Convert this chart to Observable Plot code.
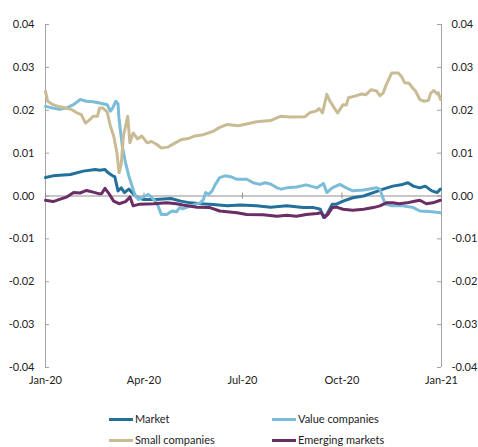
<!DOCTYPE html>
<html><head><meta charset="utf-8">
<script src="https://cdn.jsdelivr.net/npm/d3@7"></script>
<script src="https://cdn.jsdelivr.net/npm/@observablehq/plot@0.6"></script>
<style>
body{margin:0;background:#fff;font-family:Lato,"Liberation Sans",sans-serif;}
#wrap{position:relative;width:478px;height:447px;overflow:hidden}
#legend{position:absolute;left:0;top:0;width:478px;height:447px;font-size:11px;color:#222;pointer-events:none}
.item{position:absolute;display:flex;align-items:center;white-space:nowrap;height:12px;line-height:12px}
.sw{width:24px;height:3px;margin-right:2px}
</style></head><body>
<div id="wrap"><div id="chart"></div><div id="legend"></div></div>
<script>
const seriesNames = ["Market", "Value companies", "Small companies", "Emerging markets"];
const seriesColors = ["#23709a", "#7bbcd9", "#c9bc95", "#6b2d63"];

const marketData = [
["2020-01-01",0.0043],["2020-01-08",0.0047],["2020-01-24",0.0050],["2020-02-05",0.0058],["2020-02-16",0.0062],
["2020-02-20",0.0060],["2020-02-25",0.0062],["2020-02-28",0.0054],["2020-03-03",0.0047],["2020-03-05",0.0045],
["2020-03-08",0.0012],["2020-03-11",0.0019],["2020-03-14",0.0008],["2020-03-18",0.0016],["2020-03-21",0.0008],
["2020-03-26",-0.0004],["2020-04-01",-0.0008],["2020-04-12",-0.0008],["2020-04-26",-0.0006],["2020-05-05",-0.0012],
["2020-05-14",-0.0016],["2020-05-23",-0.0018],["2020-06-04",-0.0020],["2020-06-17",-0.0023],["2020-06-29",-0.0021],
["2020-07-14",-0.0023],["2020-07-27",-0.0026],["2020-08-11",-0.0023],["2020-08-26",-0.0027],["2020-09-05",-0.0027],
["2020-09-11",-0.0031],["2020-09-14",-0.0050],["2020-09-17",-0.0043],["2020-09-22",-0.0019],["2020-09-26",-0.0019],
["2020-10-02",-0.0012],["2020-10-11",-0.0004],["2020-10-21",0.0000],["2020-10-30",0.0008],["2020-11-08",0.0016],
["2020-11-17",0.0023],["2020-11-26",0.0027],["2020-12-01",0.0031],["2020-12-06",0.0023],["2020-12-12",0.0019],
["2020-12-17",0.0023],["2020-12-23",0.0012],["2020-12-28",0.0008],["2020-12-31",0.0016]
];

const valueData = [
["2020-01-01",0.0209],["2020-01-08",0.0205],["2020-01-14",0.0202],["2020-01-21",0.0206],["2020-01-27",0.0213],
["2020-02-02",0.0225],["2020-02-08",0.0221],["2020-02-14",0.0220],["2020-02-20",0.0217],["2020-02-27",0.0213],
["2020-03-01",0.0198],["2020-03-03",0.0205],["2020-03-06",0.0221],["2020-03-08",0.0215],["2020-03-09",0.0179],
["2020-03-12",0.0116],["2020-03-15",0.0077],["2020-03-18",0.0047],["2020-03-21",0.0023],["2020-03-24",0.0000],
["2020-03-27",-0.0008],["2020-04-02",0.0000],["2020-04-05",0.0004],["2020-04-10",-0.0008],["2020-04-14",-0.0023],
["2020-04-17",-0.0043],["2020-04-22",-0.0043],["2020-04-27",-0.0035],["2020-05-01",-0.0037],["2020-05-04",-0.0027],
["2020-05-07",-0.0030],["2020-05-14",-0.0023],["2020-05-23",-0.0016],["2020-05-26",-0.0008],["2020-05-28",0.0008],
["2020-05-31",0.0004],["2020-06-03",0.0012],["2020-06-06",0.0027],["2020-06-10",0.0043],["2020-06-15",0.0047],
["2020-06-20",0.0045],["2020-06-26",0.0039],["2020-07-05",0.0039],["2020-07-11",0.0031],["2020-07-17",0.0027],
["2020-07-22",0.0031],["2020-07-27",0.0028],["2020-08-02",0.0019],["2020-08-06",0.0016],["2020-08-11",0.0019],
["2020-08-20",0.0021],["2020-08-29",0.0026],["2020-09-08",0.0019],["2020-09-14",0.0029],["2020-09-17",0.0008],
["2020-09-22",0.0019],["2020-09-29",0.0027],["2020-10-05",0.0019],["2020-10-11",0.0012],["2020-10-21",0.0014],
["2020-11-02",0.0019],["2020-11-05",0.0016],["2020-11-10",-0.0019],["2020-11-16",-0.0023],["2020-11-26",-0.0023],
["2020-12-06",-0.0027],["2020-12-12",-0.0035],["2020-12-21",-0.0036],["2020-12-31",-0.0039]
];

const smallData = [
["2020-01-01",0.0244],["2020-01-03",0.0221],["2020-01-08",0.0213],["2020-01-14",0.0208],["2020-01-21",0.0204],
["2020-01-25",0.0202],["2020-01-30",0.0194],["2020-02-03",0.0190],["2020-02-07",0.0170],["2020-02-11",0.0178],
["2020-02-14",0.0186],["2020-02-18",0.0186],["2020-02-20",0.0205],["2020-02-23",0.0205],["2020-02-27",0.0196],
["2020-03-01",0.0163],["2020-03-04",0.0140],["2020-03-07",0.0101],["2020-03-09",0.0054],["2020-03-11",0.0075],
["2020-03-13",0.0140],["2020-03-17",0.0186],["2020-03-19",0.0124],["2020-03-22",0.0147],["2020-03-26",0.0133],
["2020-03-30",0.0140],["2020-04-04",0.0124],["2020-04-08",0.0127],["2020-04-13",0.0120],["2020-04-17",0.0112],
["2020-04-23",0.0114],["2020-04-30",0.0124],["2020-05-06",0.0132],["2020-05-12",0.0134],["2020-05-18",0.0140],
["2020-05-26",0.0143],["2020-06-04",0.0151],["2020-06-10",0.0160],["2020-06-17",0.0167],["2020-06-27",0.0164],
["2020-07-05",0.0168],["2020-07-14",0.0173],["2020-07-27",0.0176],["2020-08-05",0.0186],["2020-08-14",0.0184],
["2020-08-28",0.0185],["2020-09-01",0.0194],["2020-09-07",0.0198],["2020-09-10",0.0204],["2020-09-13",0.0194],
["2020-09-17",0.0237],["2020-09-20",0.0221],["2020-09-24",0.0205],["2020-09-27",0.0194],["2020-10-02",0.0213],
["2020-10-05",0.0212],["2020-10-07",0.0229],["2020-10-13",0.0233],["2020-10-19",0.0238],["2020-10-23",0.0236],
["2020-10-28",0.0248],["2020-11-02",0.0245],["2020-11-05",0.0234],["2020-11-08",0.0240],["2020-11-11",0.0260],
["2020-11-16",0.0287],["2020-11-22",0.0287],["2020-11-25",0.0279],["2020-11-28",0.0264],["2020-12-02",0.0263],
["2020-12-06",0.0250],["2020-12-08",0.0245],["2020-12-12",0.0225],["2020-12-16",0.0221],["2020-12-20",0.0223],
["2020-12-22",0.0240],["2020-12-25",0.0246],["2020-12-28",0.0238],["2020-12-29",0.0241],["2020-12-31",0.0225]
];

const emergingData = [
["2020-01-01",-0.0010],["2020-01-08",-0.0013],["2020-01-14",-0.0008],["2020-01-21",-0.0002],["2020-01-27",0.0008],
["2020-02-02",0.0007],["2020-02-08",0.0013],["2020-02-14",0.0009],["2020-02-20",0.0005],["2020-02-22",0.0006],
["2020-02-25",0.0018],["2020-02-28",0.0008],["2020-03-04",-0.0012],["2020-03-09",-0.0018],["2020-03-15",-0.0013],
["2020-03-17",-0.0008],["2020-03-19",-0.0002],["2020-03-22",-0.0023],["2020-03-28",-0.0019],["2020-04-10",-0.0018],
["2020-04-22",-0.0016],["2020-05-01",-0.0018],["2020-05-07",-0.0021],["2020-05-20",-0.0026],["2020-06-01",-0.0027],
["2020-06-10",-0.0035],["2020-06-26",-0.0039],["2020-07-05",-0.0043],["2020-07-20",-0.0044],["2020-08-02",-0.0047],
["2020-08-11",-0.0045],["2020-08-20",-0.0047],["2020-08-29",-0.0043],["2020-09-08",-0.0041],["2020-09-12",-0.0039],
["2020-09-15",-0.0050],["2020-09-18",-0.0043],["2020-09-22",-0.0027],["2020-09-26",-0.0026],["2020-10-02",-0.0031],
["2020-10-11",-0.0033],["2020-10-21",-0.0031],["2020-10-30",-0.0027],["2020-11-05",-0.0023],["2020-11-11",-0.0016],
["2020-11-17",-0.0016],["2020-11-23",-0.0018],["2020-11-30",-0.0016],["2020-12-06",-0.0013],["2020-12-12",-0.0010],
["2020-12-18",-0.0018],["2020-12-24",-0.0016],["2020-12-31",-0.0010]
];

const xStart = "2020-01-01", xEnd = "2021-01-01";
const xTickDates = ["2020-01-01", "2020-04-01", "2020-07-01", "2020-10-01", "2021-01-01"];
const yTicks = [-0.04, -0.03, -0.02, -0.01, 0, 0.01, 0.02, 0.03, 0.04];

const parse = d3.utcParse("%Y-%m-%d");
const allSeries = [marketData, valueData, smallData, emergingData];
const rows = [];
allSeries.forEach((data, i) => data.forEach(([d, v]) => rows.push({date: parse(d), value: v, name: seriesNames[i]})));
const xDomain = [parse(xStart), parse(xEnd)];
const xTicks = xTickDates.map(parse);
const axisGrey = "#a3a3a3";
const fmt = d => d.toFixed(2);

const chart = Plot.plot({
  width: 478, height: 392,
  marginLeft: 45, marginRight: 37, marginTop: 24, marginBottom: 25,
  style: {fontFamily: "Lato, 'Liberation Sans', sans-serif", fontSize: "11px", color: "#222", background: "#fff"},
  x: {type: "utc", domain: xDomain},
  y: {domain: [-0.04, 0.04]},
  color: {domain: seriesNames, range: seriesColors},
  marks: [
    Plot.ruleX(xDomain, {stroke: axisGrey}),
    Plot.ruleY(yTicks, {x1: xDomain[0], x2: xDomain[0], insetRight: -4, stroke: axisGrey}),
    Plot.ruleY(yTicks, {x1: xDomain[1], x2: xDomain[1], insetLeft: -4, stroke: axisGrey}),
    Plot.ruleY([0], {stroke: "#8f8f8f"}),
    Plot.ruleX(xTicks, {y1: 0, y2: 0, insetTop: -3, insetBottom: -3, stroke: "#8f8f8f"}),
    Plot.axisY({anchor: "left", ticks: yTicks, tickFormat: fmt, tickSize: 0, tickPadding: 11, label: null}),
    Plot.axisY({anchor: "right", ticks: yTicks, tickFormat: fmt, tickSize: 0, tickPadding: 10, label: null}),
    Plot.axisX({ticks: xTicks, tickFormat: d3.utcFormat("%b-%y"), tickSize: 0, tickPadding: 9, label: null}),
    Plot.line(rows, {x: "date", y: "value", z: "name", stroke: "name", strokeWidth: 3, strokeLinejoin: "round"})
  ]
});
document.getElementById("chart").appendChild(chart);

const legendPos = [[109, 413], [272, 413], [109, 434], [272, 434]];
const legend = document.getElementById("legend");
seriesNames.forEach((n, i) => {
  const it = document.createElement("div");
  it.className = "item";
  it.style.left = legendPos[i][0] + "px";
  it.style.top = legendPos[i][1] + "px";
  it.innerHTML = `<span class="sw" style="background:${seriesColors[i]}"></span><span>${n}</span>`;
  legend.appendChild(it);
});
</script>
</body></html>
